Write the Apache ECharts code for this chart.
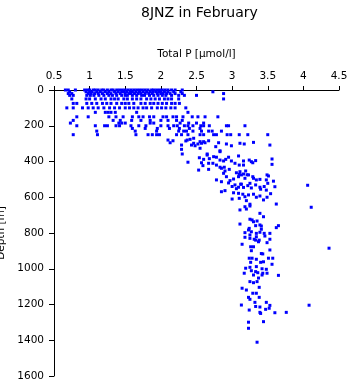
<!DOCTYPE html>
<html>
<head>
<meta charset="utf-8">
<script src="https://cdn.jsdelivr.net/npm/echarts@6/dist/echarts.min.js"></script>
<style>html,body{margin:0;padding:0;background:#fff;}#c{width:350px;height:384px;}</style>
</head>
<body>
<div id="c"></div>
<script>
// Standard-depth rows in the upper layer (depth in m -> Total P values in µmol/l)
const rowDepths = [0, 10, 20, 30, 50, 75, 100, 125, 150, 170, 185, 200, 215, 230, 250];
const rowValues = [
  [0.66,0.7,0.8,0.93,0.97,1.0,1.05,1.08,1.12,1.17,1.2,1.25,1.3,1.33,1.38,1.42,1.46,1.5,1.54,1.58,1.62,1.66,1.7,1.74,1.78,1.82,1.87,1.9,1.94,1.98,2.02,2.06,2.1,2.15,2.2,2.3],
  [0.72,0.95,1.0,1.03,1.1,1.15,1.22,1.27,1.35,1.4,1.45,1.48,1.52,1.57,1.6,1.65,1.7,1.75,1.8,1.85,1.89,1.93,1.97,2.0,2.05,2.1,2.18,2.28,2.73],
  [0.7,0.75,0.98,1.02,1.07,1.12,1.18,1.25,1.3,1.37,1.43,1.5,1.55,1.58,1.63,1.68,1.72,1.78,1.83,1.88,1.95,2.0,2.03,2.08,2.13,2.2,2.3,2.88],
  [0.72,0.77,0.96,1.01,1.06,1.13,1.2,1.27,1.32,1.38,1.45,1.5,1.53,1.6,1.66,1.73,1.77,1.84,1.9,1.96,2.02,2.07,2.15,2.25,2.33,2.5],
  [0.75,0.95,1.0,1.08,1.16,1.22,1.3,1.35,1.4,1.48,1.53,1.6,1.66,1.72,1.8,1.86,1.92,1.98,2.05,2.1,2.15,2.25,2.88],
  [0.77,0.82,0.96,1.03,1.1,1.18,1.24,1.3,1.38,1.45,1.5,1.55,1.62,1.72,1.78,1.85,1.9,1.96,2.02,2.08,2.15,2.2,2.26],
  [0.68,0.77,0.9,0.98,1.05,1.12,1.2,1.28,1.35,1.42,1.5,1.56,1.62,1.68,1.75,1.8,1.87,1.95,2.01,2.07,2.14,2.2,2.35],
  [1.08,1.22,1.26,1.3,1.36,1.66,2.38],
  [0.82,0.98,1.27,1.37,1.47,1.6,1.69,1.75,1.84,1.9,2.03,2.08,2.17,2.22,2.31,2.44,2.52,2.62,2.8],
  [0.77,1.33,1.43,1.59,1.72,1.85,2.0,2.1,2.22,2.3],
  [0.73,1.41,1.45,1.5,1.85,1.9,2.27,2.39,2.5,2.6],
  [0.82,1.08,1.21,1.25,1.37,1.42,1.58,1.69,1.79,2.0,2.1,2.18,2.23,2.33,2.38,2.45,2.56,2.6,2.68,2.92,2.95,3.18],
  [1.6,1.78,1.95,2.12,2.26,2.4,2.55],
  [1.1,1.64,1.94,2.25,2.32,2.36,2.45,2.57,2.67,2.72,2.85],
  [0.77,1.11,1.65,1.82,1.88,1.94,1.98,2.22,2.29,2.38,2.55,2.6,2.74,2.78,2.93,2.98,3.1,3.22,3.5]
];
// [Total P, depth] pairs, 260–600 m
const midPoints = [
  [2.46,270],[2.41,276],[2.1,280],[2.17,284],[2.35,285],[2.37,280],[2.55,289],[2.6,289],[2.52,302],[2.57,298],
  [2.62,295],[2.67,284],[2.81,295],[2.92,302],[2.99,312],[3.11,298],[3.17,302],[3.3,293],[3.53,308],[2.29,308],
  [2.29,332],[2.3,358],[2.13,295],[2.43,308],[2.46,298],[2.48,312],[2.55,326],[2.77,317],[2.83,340],[2.65,358],
  [2.74,373],[2.68,384],[2.54,379],[2.6,388],[2.38,404],[2.57,407],[2.59,423],[2.67,410],[2.83,392],[2.85,438],
  [2.89,432],[2.95,376],[2.99,397],[3.04,410],[3.1,420],[3.16,420],[3.16,397],[3.24,392],[3.29,407],[3.33,395],
  [3.56,386],[3.56,416],[2.53,448],[2.67,444],[2.9,453],[2.96,444],[3.06,463],[3.1,472],[3.19,453],[3.21,474],
  [2.78,503],[2.85,513],[2.92,485],[2.97,507],[3.02,498],[3.04,531],[3.09,544],[3.13,527],[3.18,494],[3.25,522],
  [3.3,494],[3.34,503],[3.39,500],[3.48,503],[3.51,481],[3.39,544],[3.5,522],[3.6,541],[4.06,533],
  [2.88,466],[3.09,485],[3.11,457],[3.13,475],[3.16,470],[3.23,475],[3.29,485],[3.49,475],[2.95,520],[3.0,540],
  [3.06,552],[3.12,527],[3.16,545],[3.22,535],[3.27,548],[3.33,531],[3.4,555],[3.45,540],[3.48,560],[3.58,510],
  [2.88,397],[2.91,388],[3.09,369],[3.27,401],[2.73,410],[2.78,376],[2.83,345],[2.65,364],[2.78,420],[2.83,432],
  [2.85,569],[2.9,563],[3.02,575],[3.09,578],[3.15,583],[3.18,597],[3.23,587],[3.3,583],[3.34,600],[3.39,593],
  [3.49,600],[3.54,580]
];
// [Total P, depth] pairs, below 600 m
const deepPoints = [
  [3.44,615],[3.0,610],[3.1,606],[3.2,619],[3.25,639],[3.62,638],[3.11,671],[3.18,653],[3.25,649],[3.2,666],
  [3.39,690],[3.44,709],[3.25,723],[4.11,656],[3.28,727],[3.11,750],[3.3,737],[3.35,733],[3.39,755],[3.33,759],
  [3.41,761],[3.24,774],[3.41,779],[3.62,770],[3.65,759],[3.18,798],[3.25,811],[3.27,793],[3.34,802],[3.39,796],
  [3.45,802],[3.46,817],[3.53,802],[3.18,824],[3.25,830],[3.31,835],[3.37,849],[3.14,863],[3.49,854],[3.26,877],
  [3.3,877],[3.38,840],[3.33,840],[3.27,899],[3.43,917],[3.41,915],[3.53,895],[4.36,885],[3.34,821],[3.53,835],
  [3.23,783],[3.24,941],[3.28,941],[3.34,947],[3.44,961],[3.51,941],[3.57,941],[3.26,964],[3.4,964],[3.56,975],
  [3.25,992],[3.34,988],[3.42,1000],[3.48,1003],[3.19,997],[3.27,1011],[3.33,1016],[3.36,1022],[3.43,1025],[3.17,1025],
  [3.3,1035],[3.42,1035],[3.49,1025],[3.65,1037],[3.37,1052],[3.25,1072],[3.3,1078],[3.35,1072],[3.38,1104],[3.14,1109],
  [3.2,1119],[3.29,1137],[3.34,1137],[3.38,1160],[3.23,1160],[3.25,1171],[3.32,1188],[3.48,1188],[3.13,1203],[3.33,1211],
  [3.39,1214],[3.53,1205],[3.52,1221],[3.24,1231],[3.47,1227],[3.39,1244],[3.4,1250],[3.6,1246],[3.76,1244],[4.08,1204],
  [3.23,1299],[3.44,1296],[3.23,1333],[3.35,1411]
];
const xTicks = { min: 0.5, max: 4.5, step: 0.5 };
const yTicks = { min: 0, max: 1600, step: 200 };

const points = [];
rowDepths.forEach((d, i) => rowValues[i].forEach(v => points.push([v, d])));
midPoints.forEach(p => points.push(p));
deepPoints.forEach(p => points.push(p));

const font = 'DejaVu Sans';
const chart = echarts.init(document.getElementById('c'), null, { renderer: 'canvas' });
chart.setOption({
  animation: false,
  backgroundColor: '#ffffff',
  title: {
    text: '8JNZ in February',
    left: 136, top: 1,
    textStyle: { fontFamily: font, fontSize: 14, fontWeight: 'normal', color: '#000' }
  },
  grid: { left: 54, right: 11, top: 90, bottom: 8, containLabel: false, outerBoundsMode: 'none' },
  xAxis: {
    type: 'value', position: 'top',
    min: xTicks.min, max: xTicks.max, interval: xTicks.step,
    name: 'Total P [\u03bcmol/l]', nameLocation: 'middle', nameGap: 30,
    nameTextStyle: { fontFamily: font, fontSize: 10.5, color: '#000' },
    axisLine: { show: true, lineStyle: { color: '#000', width: 1 } },
    axisTick: { show: true, inside: false, length: 4, lineStyle: { color: '#000' } },
    axisLabel: { fontFamily: font, fontSize: 10.5, color: '#000', margin: 8, formatter: v => String(v) },
    splitLine: { show: false }
  },
  yAxis: {
    type: 'value', inverse: true,
    min: yTicks.min, max: yTicks.max, interval: yTicks.step,
    name: 'Depth [m]', nameLocation: 'middle', nameGap: 42, nameRotate: 90,
    nameTextStyle: { fontFamily: font, fontSize: 10.5, color: '#000' },
    axisLine: { show: true, lineStyle: { color: '#000', width: 1 } },
    axisTick: { show: true, inside: false, length: 5, lineStyle: { color: '#000' } },
    axisLabel: { fontFamily: font, fontSize: 10.5, color: '#000', margin: 10, formatter: v => String(v) },
    splitLine: { show: false }
  },
  series: [{
    type: 'scatter',
    symbol: 'rect',
    symbolSize: 3,
    itemStyle: { color: '#0000ff', opacity: 1 },
    data: points
  }]
});
</script>
</body>
</html>
